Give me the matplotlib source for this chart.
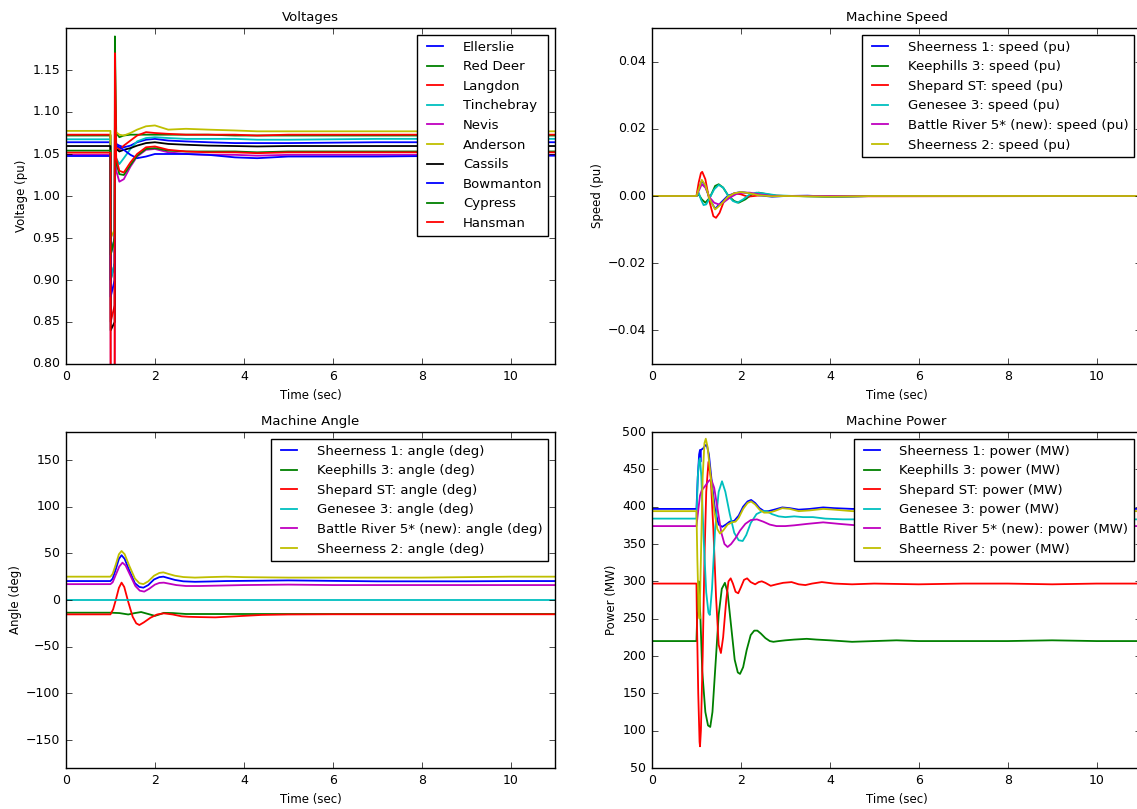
import matplotlib
matplotlib.use("Agg")
import matplotlib.pyplot as plt

# ---------------- data ----------------
# Voltages (pu), shared time grid
T_VOLT = [0, 1.0, 1.005, 1.095, 1.1, 1.13, 1.2, 1.3, 1.45, 1.6, 1.8, 2.0, 2.3, 2.7, 3.2, 3.8, 4.3, 5, 7, 9, 11]
V_ELLERSLIE = [1.064, 1.064, 0.93, 0.95, 1.08, 1.062, 1.060, 1.058, 1.060, 1.064, 1.067, 1.068, 1.066, 1.065, 1.064, 1.063, 1.063, 1.063, 1.064, 1.064, 1.064]
V_RED_DEER = [1.072, 1.072, 0.90, 0.92, 1.19, 1.075, 1.070, 1.072, 1.073, 1.073, 1.073, 1.073, 1.073, 1.073, 1.073, 1.072, 1.072, 1.072, 1.072, 1.072, 1.072]
V_LANGDON = [1.073, 1.073, 0.85, 0.87, 1.17, 1.06, 1.055, 1.06, 1.066, 1.072, 1.076, 1.075, 1.074, 1.073, 1.073, 1.073, 1.072, 1.073, 1.073, 1.073, 1.073]
V_TINCHEBRAY = [1.0675, 1.0675, 0.90, 0.92, 1.06, 1.045, 1.038, 1.045, 1.056, 1.065, 1.069, 1.070, 1.069, 1.068, 1.068, 1.068, 1.067, 1.067, 1.068, 1.068, 1.068]
V_NEVIS = [1.049, 1.049, 0.70, 0.72, 1.08, 1.03, 1.017, 1.02, 1.035, 1.047, 1.055, 1.056, 1.052, 1.050, 1.049, 1.049, 1.048, 1.049, 1.049, 1.049, 1.049]
V_ANDERSON = [1.0775, 1.0775, 0.95, 0.96, 1.08, 1.076, 1.073, 1.072, 1.075, 1.079, 1.083, 1.084, 1.079, 1.080, 1.079, 1.078, 1.077, 1.077, 1.077, 1.077, 1.077]
V_CASSILS = [1.0595, 1.0595, 0.84, 0.85, 1.06, 1.056, 1.053, 1.055, 1.057, 1.060, 1.063, 1.064, 1.062, 1.061, 1.060, 1.0595, 1.059, 1.0595, 1.0595, 1.0595, 1.0595]
V_BOWMANTON = [1.0476, 1.0476, 0.88, 0.90, 1.07, 1.06, 1.058, 1.055, 1.049, 1.045, 1.047, 1.050, 1.050, 1.050, 1.049, 1.046, 1.045, 1.047, 1.047, 1.048, 1.048]
V_CYPRESS = [1.054, 1.054, 0.93, 0.95, 1.10, 1.04, 1.026, 1.025, 1.037, 1.048, 1.056, 1.057, 1.054, 1.053, 1.053, 1.053, 1.052, 1.053, 1.053, 1.053, 1.053]
V_HANSMAN = [1.0516, 1.0516, 0.78, 0.80, 1.12, 1.045, 1.03, 1.028, 1.040, 1.050, 1.058, 1.059, 1.055, 1.053, 1.052, 1.052, 1.051, 1.052, 1.052, 1.052, 1.052]
BUS_NAMES = ["Ellerslie", "Red Deer", "Langdon", "Tinchebray", "Nevis",
             "Anderson", "Cassils", "Bowmanton", "Cypress", "Hansman"]
BUS_VOLTS = [V_ELLERSLIE, V_RED_DEER, V_LANGDON, V_TINCHEBRAY, V_NEVIS,
             V_ANDERSON, V_CASSILS, V_BOWMANTON, V_CYPRESS, V_HANSMAN]

MACHINES = ["Sheerness 1", "Keephills 3", "Shepard ST", "Genesee 3",
            "Battle River 5* (new)", "Sheerness 2"]

# Machine speed (pu)
S_T1 = [0, 1.0, 1.05, 1.12, 1.2, 1.3, 1.42, 1.55, 1.7, 1.85, 2.0, 2.2, 2.4, 2.7, 3.0, 3.5, 4, 5, 7, 11]
S_V1 = [0, 0, 0.002, 0.0045, 0.003, -0.001, -0.0038, -0.002, 0.0, 0.0008, 0.0012, 0.0008, 0.0002, -0.0002, 0, 0.0001, -0.0002, 0, 0, 0]
S_T2 = [0, 1.0, 1.05, 1.12, 1.2, 1.3, 1.42, 1.5, 1.6, 1.72, 1.85, 1.95, 2.1, 2.25, 2.4, 2.6, 2.8, 3.2, 4, 5, 11]
S_V2 = [0, 0, 0.0005, -0.001, -0.002, -0.0005, 0.003, 0.0035, 0.0025, 0.0, -0.0015, -0.002, -0.001, 0.0005, 0.001, 0.0005, 0, 0, -0.0002, 0, 0]
S_T3 = [0, 1.0, 1.05, 1.1, 1.13, 1.2, 1.3, 1.38, 1.44, 1.52, 1.62, 1.75, 1.85, 2.0, 2.15, 2.3, 2.5, 3, 4, 11]
S_V3 = [0, 0, 0.004, 0.0068, 0.0072, 0.005, -0.002, -0.006, -0.0065, -0.005, -0.0015, 0.0, 0.0008, 0.0005, -0.0002, 0.0, 0.0003, 0, -0.0001, 0]
S_T4 = [0, 1.0, 1.05, 1.1, 1.16, 1.22, 1.3, 1.4, 1.5, 1.6, 1.72, 1.82, 1.92, 2.05, 2.2, 2.35, 2.55, 2.8, 3.2, 4, 5, 11]
S_V4 = [0, 0, 0.001, -0.001, -0.0027, -0.0025, -0.0005, 0.002, 0.0033, 0.0025, 0.0, -0.0015, -0.002, -0.001, 0.0005, 0.001, 0.0007, 0.0002, 0, -0.0002, 0, 0]
S_T5 = [0, 1.0, 1.05, 1.12, 1.2, 1.3, 1.4, 1.5, 1.6, 1.75, 1.9, 2.05, 2.2, 2.4, 2.7, 3.2, 4, 11]
S_V5 = [0, 0, 0.0015, 0.0035, 0.0025, -0.0005, -0.002, -0.0025, -0.002, -0.0005, 0.0006, 0.001, 0.001, 0.0005, 0.0, 0, 0, 0]
S_T6 = [0, 1.0, 1.05, 1.12, 1.2, 1.3, 1.42, 1.55, 1.7, 1.85, 2.0, 2.2, 2.4, 2.7, 3.0, 4, 5, 11]
S_V6 = [0, 0, 0.002, 0.0048, 0.0032, -0.001, -0.004, -0.0025, -0.0003, 0.0008, 0.0012, 0.0008, 0.0002, -0.0001, 0, -0.0002, 0, 0]
SPEED_T = [S_T1, S_T2, S_T3, S_T4, S_T5, S_T6]
SPEED_V = [S_V1, S_V2, S_V3, S_V4, S_V5, S_V6]

# Machine angle (deg)
A_T1 = [0, 1.0, 1.05, 1.12, 1.19, 1.25, 1.32, 1.42, 1.55, 1.65, 1.74, 1.85, 1.98, 2.1, 2.19, 2.3, 2.45, 2.64, 2.9, 3.2, 3.6, 4, 5, 6, 7, 8, 9, 10, 11]
A_V1 = [20.3, 20.3, 23, 33, 44, 48, 44, 32, 18, 14, 13.2, 16, 22, 24.5, 25, 23.5, 21.5, 20, 19.5, 19.8, 20.3, 20.5, 21, 20.5, 20, 20, 20, 20.3, 20.3]
A_T2 = [0, 1.0, 1.2, 1.4, 1.55, 1.69, 1.85, 2.0, 2.1, 2.2, 2.4, 2.7, 3.2, 4, 5, 7, 9, 11]
A_V2 = [-13.6, -13.6, -14, -15.5, -14, -12.9, -15, -17, -15.5, -13.8, -14, -15, -15, -15, -15, -15, -15, -15]
A_T3 = [0, 1.0, 1.06, 1.12, 1.19, 1.25, 1.31, 1.4, 1.5, 1.58, 1.65, 1.75, 1.9, 2.05, 2.2, 2.4, 2.6, 2.76, 3.0, 3.36, 3.8, 4.4, 5, 6, 7, 8, 9, 10, 11]
A_V3 = [-15.4, -15.4, -10, 0, 13, 18.6, 14, -2, -18, -25, -26.8, -24, -19, -15.5, -14.3, -15.5, -17.5, -18, -18.3, -18.6, -17.5, -16, -15.5, -15.3, -15.3, -15.3, -15.3, -15.3, -15.3]
A_T4 = [0, 11]
A_V4 = [0, 0]
A_T5 = [0, 1.0, 1.05, 1.12, 1.2, 1.27, 1.34, 1.44, 1.56, 1.66, 1.76, 1.87, 2.0, 2.1, 2.2, 2.32, 2.48, 2.7, 3.0, 3.5, 4, 5, 6, 7, 8, 9, 10, 11]
A_V5 = [17, 17, 19, 27, 36, 40, 37, 27, 15, 10, 9, 12, 16.5, 18.3, 18.6, 17.5, 16, 15, 15, 15.5, 16, 16.5, 16, 16, 16, 16, 16, 16]
A_T6 = [0, 1.0, 1.05, 1.12, 1.19, 1.25, 1.32, 1.42, 1.55, 1.65, 1.74, 1.85, 1.98, 2.1, 2.19, 2.3, 2.45, 2.64, 2.9, 3.2, 3.6, 4, 5, 6, 7, 8, 9, 10, 11]
A_V6 = [25, 25, 28, 38, 49, 52.5, 49, 37, 23, 18, 17, 20, 26, 29, 29.6, 28, 26, 24.6, 24, 24.5, 25, 24.5, 24, 24, 24, 24, 24.5, 25, 25]
ANGLE_T = [A_T1, A_T2, A_T3, A_T4, A_T5, A_T6]
ANGLE_V = [A_V1, A_V2, A_V3, A_V4, A_V5, A_V6]

# Machine power (MW)
P_T1 = [0, 1.0, 1.03, 1.06, 1.08, 1.09, 1.1, 1.15, 1.2, 1.23, 1.28, 1.35, 1.42, 1.5, 1.58, 1.66, 1.75, 1.85, 1.95, 2.05, 2.15, 2.23, 2.32, 2.42, 2.52, 2.62, 2.75, 2.93, 3.1, 3.3, 3.55, 3.85, 4.1, 4.5, 5, 6, 7, 8, 9, 10, 11]
P_V1 = [397, 397, 440, 470, 476, 460, 476, 478, 482, 483, 470, 430, 395, 376, 373, 376, 380, 381, 388, 400, 407, 409, 405, 398, 394, 394, 396, 399, 398, 396, 397, 399, 398, 397, 397, 397, 397, 397, 397, 397, 397]
P_T2 = [0, 1.0, 1.03, 1.05, 1.09, 1.13, 1.2, 1.26, 1.31, 1.36, 1.43, 1.5, 1.57, 1.64, 1.7, 1.78, 1.86, 1.93, 1.98, 2.05, 2.13, 2.22, 2.3, 2.37, 2.45, 2.55, 2.65, 2.73, 2.85, 3.0, 3.2, 3.48, 3.7, 4.0, 4.5, 5, 5.5, 6, 7, 8, 9, 10, 11]
P_V2 = [220, 220, 280, 300, 250, 180, 125, 107, 105, 125, 190, 255, 290, 298, 285, 240, 195, 178, 176, 185, 208, 228, 234, 234, 230, 224, 220, 219, 220, 221, 222, 223, 222, 221, 219, 220, 221, 220, 220, 220, 221, 220, 220]
P_T3 = [0, 1.0, 1.01, 1.04, 1.07, 1.08, 1.1, 1.14, 1.18, 1.22, 1.27, 1.32, 1.38, 1.44, 1.5, 1.55, 1.6, 1.67, 1.72, 1.77, 1.82, 1.88, 1.94, 2.0, 2.07, 2.14, 2.22, 2.32, 2.4, 2.47, 2.55, 2.67, 2.8, 2.95, 3.14, 3.3, 3.45, 3.6, 3.82, 4.1, 4.5, 5, 6, 7, 8, 9, 10, 11]
P_V3 = [297, 297, 250, 150, 85, 79, 100, 200, 330, 420, 460, 440, 370, 280, 215, 204, 225, 275, 300, 304, 297, 286, 284, 292, 302, 304, 299, 296, 299, 300, 298, 294, 296, 298, 299, 296, 295, 297, 299, 297, 296, 297, 296, 297, 297, 296, 297, 297]
P_T4 = [0, 1.0, 1.03, 1.06, 1.08, 1.11, 1.16, 1.22, 1.27, 1.3, 1.35, 1.42, 1.5, 1.575, 1.65, 1.75, 1.85, 1.95, 2.04, 2.12, 2.22, 2.35, 2.48, 2.58, 2.7, 2.85, 3.0, 3.2, 3.4, 3.62, 3.9, 4.3, 5, 6, 7, 8, 9, 10, 11]
P_V4 = [384, 384, 440, 462, 465, 440, 360, 285, 258, 255, 290, 370, 420, 434, 420, 390, 365, 355, 354, 362, 378, 390, 394, 394, 390, 387, 386, 387, 386, 386, 384, 383, 383, 383, 383, 383, 383, 383, 383]
P_T5 = [0, 1.0, 1.04, 1.08, 1.12, 1.2, 1.27, 1.33, 1.4, 1.48, 1.56, 1.63, 1.7, 1.78, 1.88, 1.98, 2.1, 2.22, 2.36, 2.5, 2.65, 2.8, 3.0, 3.2, 3.5, 3.85, 4.2, 4.6, 5, 6, 7, 8, 9, 10, 11]
P_V5 = [374, 374, 395, 415, 422, 428, 434, 437, 425, 395, 365, 350, 346, 350, 358, 368, 377, 382, 383, 380, 376, 374, 374, 375, 377, 379, 377, 375, 374, 374, 374, 374, 374, 374, 374]
P_T6 = [0, 1.0, 1.02, 1.05, 1.07, 1.1, 1.14, 1.18, 1.21, 1.25, 1.32, 1.4, 1.47, 1.53, 1.6, 1.7, 1.8, 1.88, 1.95, 2.05, 2.15, 2.23, 2.32, 2.42, 2.52, 2.62, 2.75, 2.93, 3.1, 3.3, 3.55, 3.85, 4.1, 4.5, 5, 6, 7, 8, 9, 10, 11]
P_V6 = [394, 394, 330, 260, 250, 330, 440, 485, 491, 480, 440, 395, 370, 364, 368, 376, 379, 380, 385, 397, 405, 407, 403, 396, 392, 392, 394, 398, 397, 394, 395, 397, 396, 394, 394, 394, 394, 394, 394, 394, 394]
POWER_T = [P_T1, P_T2, P_T3, P_T4, P_T5, P_T6]
POWER_V = [P_V1, P_V2, P_V3, P_V4, P_V5, P_V6]

# ---------------- style ----------------
plt.style.use("classic")
plt.rcParams.update({
    "figure.facecolor": "white",
    "savefig.facecolor": "white",
    "font.family": ["DejaVu Sans"],
    "font.size": 9,
    "axes.titlesize": 9.5,
    "axes.labelsize": 8.5,
    "xtick.labelsize": 9,
    "ytick.labelsize": 9,
    "legend.fontsize": 9.5,
    "lines.linewidth": 1.3,
})

W, H = 1137, 809
fig = plt.figure(figsize=(W / 100, H / 100), dpi=100)


def add(l, t, r, b):
    return fig.add_axes([l / W, 1 - b / H, (r - l) / W, (b - t) / H])


ax_v = add(66, 28, 555, 364)
ax_s = add(652, 28, 1141, 364)
ax_a = add(66, 432, 555, 768)
ax_p = add(652, 432, 1141, 768)

colors6 = ["b", "g", "r", "c", "m", "y"]
colors10 = ["b", "g", "r", "c", "m", "y", "k", "b", "g", "r"]

for name, vals, col in zip(BUS_NAMES, BUS_VOLTS, colors10):
    ax_v.plot(T_VOLT, vals, color=col, label=name)
ax_v.set_title("Voltages")
ax_v.set_ylabel("Voltage (pu)", labelpad=3)
ax_v.set_xlabel("Time (sec)")
ax_v.set_xlim(0, 11)
ax_v.set_ylim(0.80, 1.20)
ax_v.set_yticks([0.80, 0.85, 0.90, 0.95, 1.00, 1.05, 1.10, 1.15])

for m, t, v, col in zip(MACHINES, SPEED_T, SPEED_V, colors6):
    ax_s.plot(t, v, color=col, label=m + ": speed (pu)")
ax_s.set_title("Machine Speed")
ax_s.set_ylabel("Speed (pu)", labelpad=3)
ax_s.set_xlabel("Time (sec)")
ax_s.set_xlim(0, 11)
ax_s.set_ylim(-0.05, 0.05)
ax_s.set_yticks([-0.04, -0.02, 0.0, 0.02, 0.04])

for m, t, v, col in zip(MACHINES, ANGLE_T, ANGLE_V, colors6):
    ax_a.plot(t, v, color=col, label=m + ": angle (deg)")
ax_a.set_title("Machine Angle")
ax_a.set_ylabel("Angle (deg)", labelpad=3)
ax_a.set_xlabel("Time (sec)")
ax_a.set_xlim(0, 11)
ax_a.set_ylim(-180, 180)
ax_a.set_yticks([-150, -100, -50, 0, 50, 100, 150])

for m, t, v, col in zip(MACHINES, POWER_T, POWER_V, colors6):
    ax_p.plot(t, v, color=col, label=m + ": power (MW)")
ax_p.set_title("Machine Power")
ax_p.set_ylabel("Power (MW)", labelpad=3)
ax_p.set_xlabel("Time (sec)")
ax_p.set_xlim(0, 11)
ax_p.set_ylim(50, 500)

for ax in (ax_v, ax_s, ax_a, ax_p):
    ax.legend(loc="upper right", handlelength=1.8, handletextpad=1.2,
              labelspacing=0.5, borderpad=0.45)

fig.savefig("out.png", dpi=100)
